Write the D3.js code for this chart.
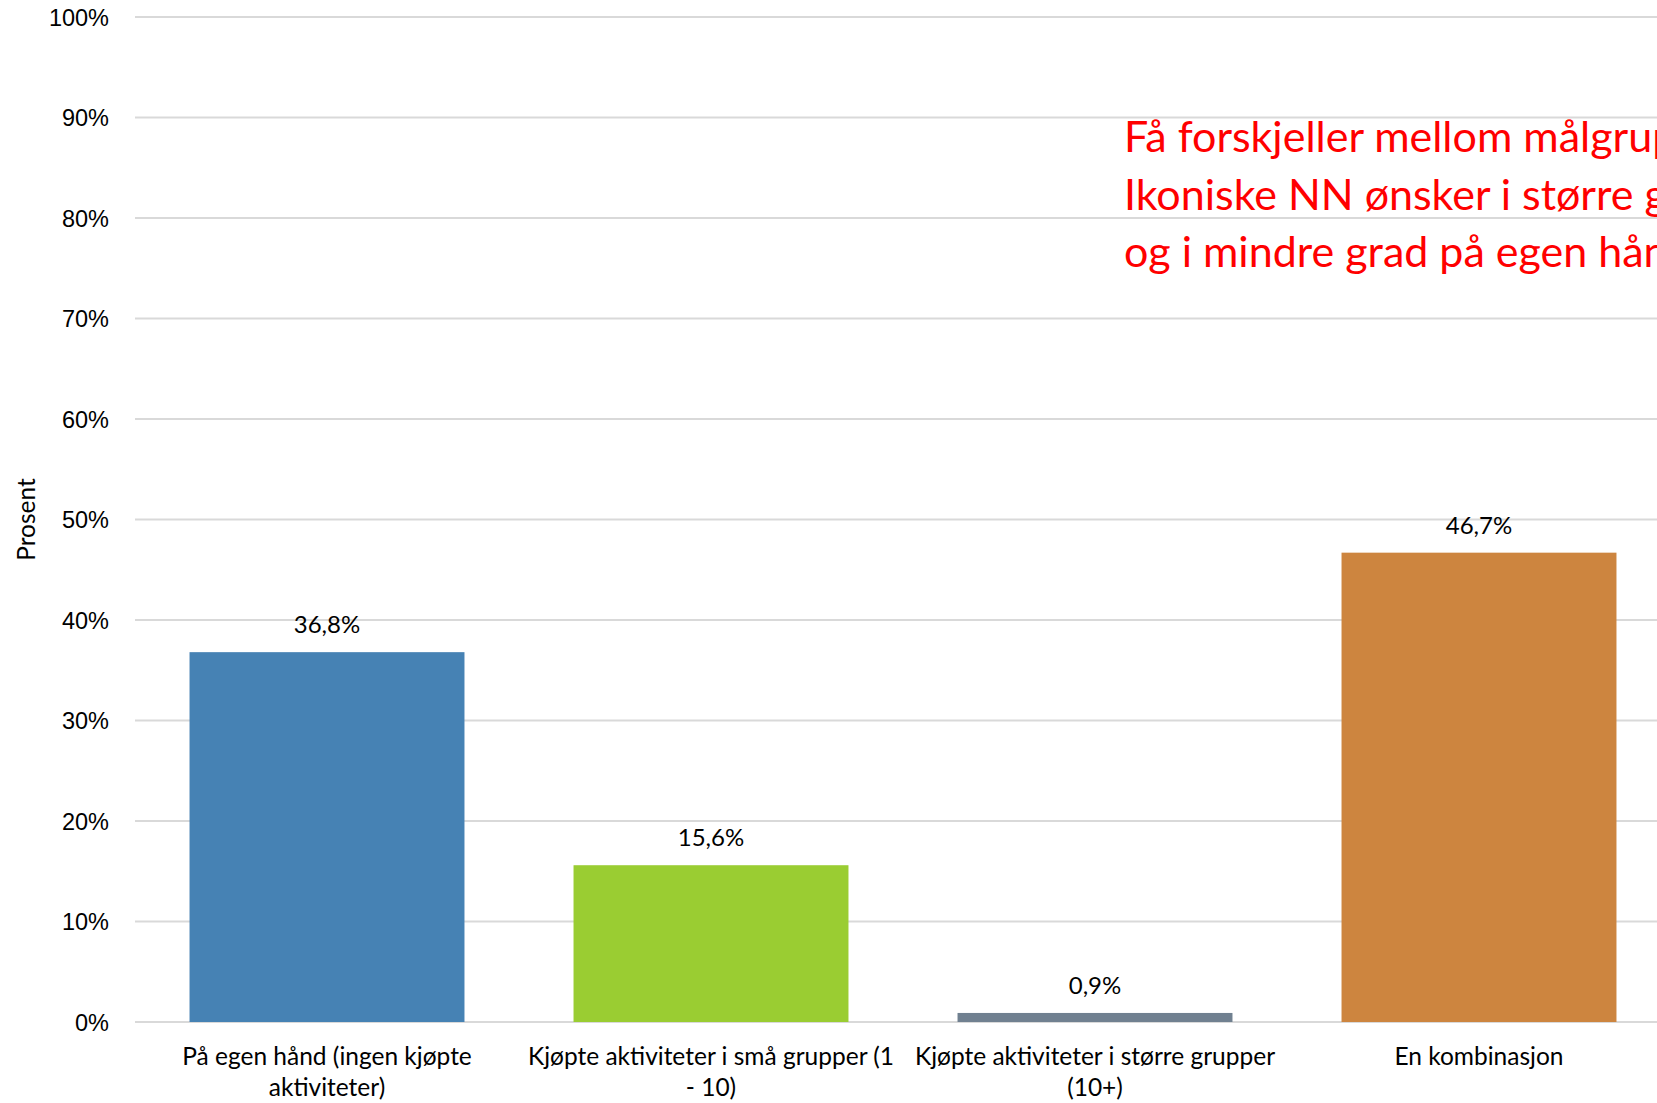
<!DOCTYPE html>
<html>
<head>
<meta charset="utf-8">
<script src="https://cdn.jsdelivr.net/npm/d3@7"></script>
<style>
  body { margin: 0; background: #fff; overflow: hidden; }
  svg { display: block; font-family: "Lato", "Noto Sans", sans-serif; }
  .tick text { fill: #000; }
</style>
</head>
<body>
<div id="svg-container"></div>
<script>
// data
const categories = [
  ["På egen hånd (ingen kjøpte", "aktiviteter)"],
  ["Kjøpte aktiviteter i små grupper (1", "- 10)"],
  ["Kjøpte aktiviteter i større grupper", "(10+)"],
  ["En kombinasjon"]
];
const values = [36.8, 15.6, 0.9, 46.7];
const valueLabels = ["36,8%", "15,6%", "0,9%", "46,7%"];
const barColors = ["#4682b4", "#9acd32", "#708090", "#cd853f"];
const yTicks = [0, 10, 20, 30, 40, 50, 60, 70, 80, 90, 100];
const note = [
  "Få forskjeller mellom målgruppene.",
  "Ikoniske NN ønsker i større grad kjøpte aktiviteter,",
  "og i mindre grad på egen hånd"
];

const width = 1657, height = 1103;
const margin = { top: 17, right: -14, bottom: 81, left: 135 };

const svg = d3.select("#svg-container").append("svg")
  .attr("width", width).attr("height", height);

const keys = categories.map((d, i) => i);
const xScale = d3.scaleBand()
  .domain(keys)
  .range([margin.left, width - margin.right])
  .paddingInner(0.284)
  .paddingOuter(0.142);
const yScale = d3.scaleLinear()
  .domain([0, 100])
  .range([height - margin.bottom, margin.top]);

// grid + y axis
const yAxis = d3.axisLeft(yScale)
  .tickValues(yTicks)
  .tickFormat(d => d + "%")
  .tickSize(0)
  .tickPadding(26);

const gy = svg.append("g")
  .attr("class", "y-axis")
  .attr("transform", `translate(${margin.left},0)`)
  .call(yAxis);
gy.select(".domain").remove();
gy.selectAll("text").attr("font-size", 23.5).attr("dy", "0.35em");

svg.append("g")
  .selectAll("line")
  .data(yTicks)
  .enter()
  .append("line")
  .attr("x1", margin.left)
  .attr("x2", width)
  .attr("y1", d => yScale(d))
  .attr("y2", d => yScale(d))
  .attr("stroke", "#d9d9d9")
  .attr("stroke-width", 2);

// bars
svg.append("g")
  .selectAll("rect")
  .data(values)
  .enter()
  .append("rect")
  .attr("x", (d, i) => xScale(i))
  .attr("y", d => yScale(d))
  .attr("width", xScale.bandwidth())
  .attr("height", d => yScale(0) - yScale(d))
  .attr("fill", (d, i) => barColors[i]);

// value labels
svg.append("g")
  .selectAll("text")
  .data(values)
  .enter()
  .append("text")
  .attr("x", (d, i) => xScale(i) + xScale.bandwidth() / 2)
  .attr("y", d => yScale(d) - 19)
  .attr("text-anchor", "middle")
  .attr("font-size", 24)
  .attr("fill", "#000")
  .text((d, i) => valueLabels[i]);

// category labels
const catG = svg.append("g")
  .selectAll("text")
  .data(categories)
  .enter()
  .append("text")
  .attr("x", (d, i) => xScale(i) + xScale.bandwidth() / 2)
  .attr("y", height - margin.bottom + 43)
  .attr("text-anchor", "middle")
  .attr("font-size", 24.5)
  .attr("fill", "#000");
catG.selectAll("tspan")
  .data(d => d)
  .enter()
  .append("tspan")
  .attr("x", function () { return d3.select(this.parentNode).attr("x"); })
  .attr("dy", (d, i) => i === 0 ? 0 : 31)
  .text(d => d);

// y unit
svg.append("text")
  .attr("transform", `translate(35, ${(yScale(0) + yScale(100)) / 2}) rotate(-90)`)
  .attr("text-anchor", "middle")
  .attr("font-size", 24.5)
  .attr("fill", "#000")
  .text("Prosent");

// annotation
svg.append("g")
  .selectAll("text")
  .data(note)
  .enter()
  .append("text")
  .attr("x", 1124)
  .attr("y", (d, i) => 152 + i * 57.5)
  .attr("font-size", 43)
  .attr("fill", "#ff0000")
  .text(d => d);
</script>
</body>
</html>
